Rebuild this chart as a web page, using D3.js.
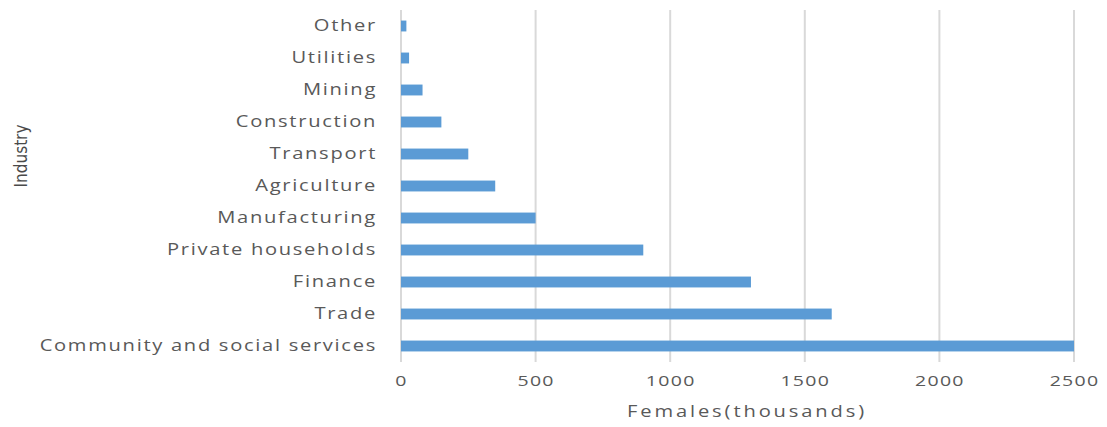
<!DOCTYPE html>
<html><head><meta charset="utf-8">
<script src="https://cdn.jsdelivr.net/npm/d3@7"></script>
<style>
body{margin:0;background:#fff;}
svg text{font-family:"Open Sans",sans-serif;fill:#595959;}
</style></head>
<body><svg id="c" width="1107" height="427"></svg>
<script>
const categories = ["Other","Utilities","Mining","Construction","Transport","Agriculture","Manufacturing","Private households","Finance","Trade","Community and social services"];
const values = [20,30,80,150,250,350,500,900,1300,1600,2500];
const xTicks = [0,500,1000,1500,2000,2500];
const xTitle = "Females(thousands)";
const yTitle = "Industry";

const svg = d3.select("#c");
const m = {left:401, right:1074, top:10, bottom:362};
const sx = 1.3;
const x = d3.scaleLinear().domain([0,2500]).range([m.left,m.right]);
const y = d3.scaleBand().domain(categories).range([m.top,m.bottom]).paddingInner(0.66).paddingOuter(0.33);

// gridlines
svg.append("g").selectAll("line").data(xTicks).join("line")
  .attr("x1",d=>x(d)).attr("x2",d=>x(d)).attr("y1",m.top).attr("y2",m.bottom)
  .attr("stroke","#d9d9d9").attr("stroke-width",2);

// bars
svg.append("g").selectAll("rect").data(categories).join("rect")
  .attr("x",x(0)).attr("y",d=>y(d)).attr("height",y.bandwidth())
  .attr("width",(d,i)=>x(values[i])-x(0)).attr("fill","#5b9bd5");

// y axis labels
const ya = svg.append("g").attr("transform",`translate(${m.left},0)`)
  .call(d3.axisLeft(y).tickSize(0).tickPadding(24/sx));
ya.select(".domain").remove();
ya.selectAll("text").attr("font-size",15.5).style("letter-spacing","1.3px")
  .attr("transform",`scale(${sx},1)`).attr("fill","#595959");

// x axis labels
const xa = svg.append("g").attr("transform",`translate(0,${m.bottom})`)
  .call(d3.axisBottom(x).tickValues(xTicks).tickFormat(d3.format("d")).tickSize(0).tickPadding(13));
xa.select(".domain").remove();
xa.selectAll("text").attr("font-size",15).style("letter-spacing","1px")
  .attr("transform",`scale(${sx},1)`).attr("fill","#595959");

svg.append("text").attr("transform",`translate(747,417) scale(${sx},1)`).attr("text-anchor","middle")
  .attr("font-size",15.5).style("letter-spacing","2.2px").text(xTitle);
svg.append("text").attr("transform","translate(27,156) rotate(-90)").attr("text-anchor","middle")
  .attr("font-size",17).style("fill","#4a4a4a").style("font-family","'Liberation Sans Narrow','DejaVu Sans Condensed',sans-serif").text(yTitle);
</script></body></html>
